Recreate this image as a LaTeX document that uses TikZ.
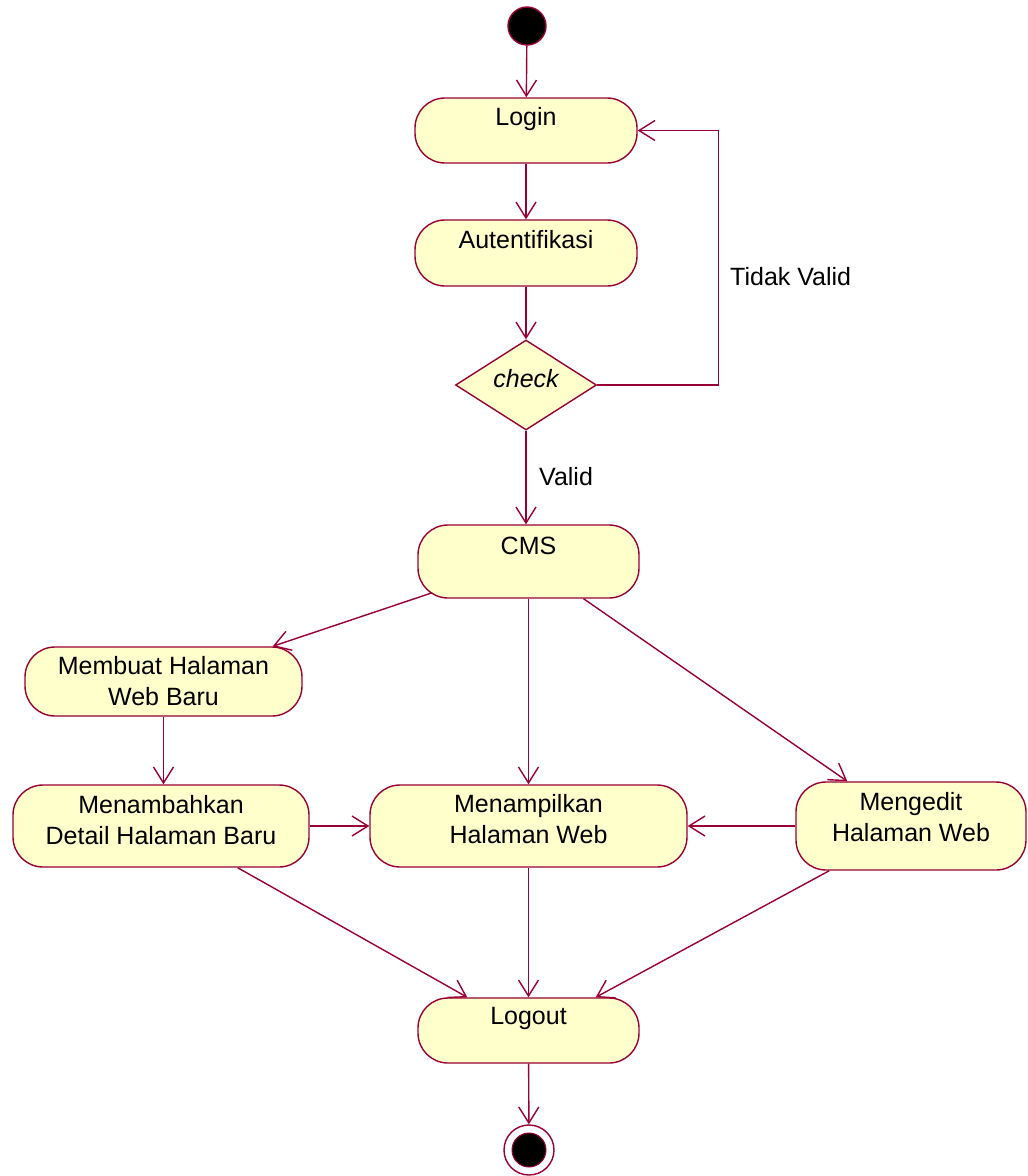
\documentclass[tikz,border=0pt]{standalone}
\usepackage{fontspec}
\setmainfont{Liberation Sans}
\usetikzlibrary{arrows.meta,shapes.geometric}
\definecolor{edgecol}{RGB}{153,0,51}
\definecolor{actfill}{RGB}{255,255,204}
\begin{document}
\begin{tikzpicture}[x=1pt,y=-1pt,
  act/.style={draw=edgecol, fill=actfill, line width=1.4pt, rounded corners=30pt, inner sep=0pt},
  lbl/.style={font=\fontsize{25}{31}\selectfont, align=center, inner sep=0pt, text=black},
  flow/.style={draw=edgecol, line width=1.4pt, -{Straight Barb[length=16pt,width=20pt]}},
]
\useasboundingbox (0,0) rectangle (1028,1176);

% start and end markers
\node[circle, draw=edgecol, fill=black, line width=1.4pt, minimum size=38pt, inner sep=0pt] (start) at (527,26) {};
\node[circle, draw=edgecol, fill=white, line width=1.4pt, minimum size=50pt, inner sep=0pt] (end) at (529,1150) {};
\node[circle, draw=edgecol, fill=black, line width=1pt, minimum size=34pt, inner sep=0pt] (endin) at (end.center) {};

% activities
\node[act, minimum width=222pt, minimum height=65pt] (login) at (526,130.5) {};
\node[lbl] (login-t) at (526,119) {Login};

\node[act, minimum width=222pt, minimum height=66pt] (auth) at (526,253) {};
\node[lbl] (auth-t) at (526,240) {Autentifikasi};

\node[diamond, draw=edgecol, fill=actfill, line width=1.4pt, minimum width=141pt, minimum height=90pt, inner sep=0pt] (check) at (526,385) {};
\node[lbl, font=\fontsize{25}{31}\selectfont\itshape] (check-t) at (526,379) {check};

\node[act, minimum width=221pt, minimum height=73pt] (cms) at (528.5,561.5) {};
\node[lbl] (cms-t) at (528.5,546) {CMS};

\node[act, minimum width=277pt, minimum height=69pt] (mhb) at (163.5,681.5) {};
\node[lbl] (mhb-t) at (163.5,681.5) {Membuat Halaman\\Web Baru};

\node[act, minimum width=296pt, minimum height=82pt] (mdh) at (161,826) {};
\node[lbl] (mdh-t) at (161,820) {Menambahkan\\Detail Halaman Baru};

\node[act, minimum width=317pt, minimum height=82pt] (mhw) at (528.5,826) {};
\node[lbl] (mhw-t) at (528.5,819) {Menampilkan\\Halaman Web};

\node[act, minimum width=230pt, minimum height=88pt] (edit) at (911,826) {};
\node[lbl] (edit-t) at (911,817) {Mengedit\\Halaman Web};

\node[act, minimum width=221pt, minimum height=65pt] (logout) at (528.5,1030.5) {};
\node[lbl] (logout-t) at (528.5,1018) {Logout};

% guard labels
\node[lbl, anchor=west] (valid) at (539,477) {Valid};
\node[lbl, anchor=west] (invalid) at (730,277) {Tidak Valid};

% control flow
\draw[flow] (start) -- (login);
\draw[flow] (login) -- (auth);
\draw[flow] (auth) -- (check);
\draw[flow] (check.east) -- ++(121,0) |- (login.east);
\draw[flow] (check.south) -- (check.south |- cms.north);
\draw[flow] ([xshift=15pt,yshift=6pt]cms.south west) -- ([xshift=-30pt]mhb.north east);
\draw[flow] (cms) -- (mhw);
\draw[flow] ([xshift=55pt]cms.south) -- ([xshift=52pt]edit.north west);
\draw[flow] (mhb.south) -- (mhb.south |- mdh.north);
\draw[flow] (mdh) -- (mhw);
\draw[flow] (edit) -- (mhw);
\draw[flow] ([xshift=-72pt]mdh.south east) -- ([xshift=50pt]logout.north west);
\draw[flow] (mhw) -- (logout);
\draw[flow] ([xshift=34pt]edit.south west) -- ([xshift=-44pt]logout.north east);
\draw[flow] (logout) -- (end);
\end{tikzpicture}
\end{document}
